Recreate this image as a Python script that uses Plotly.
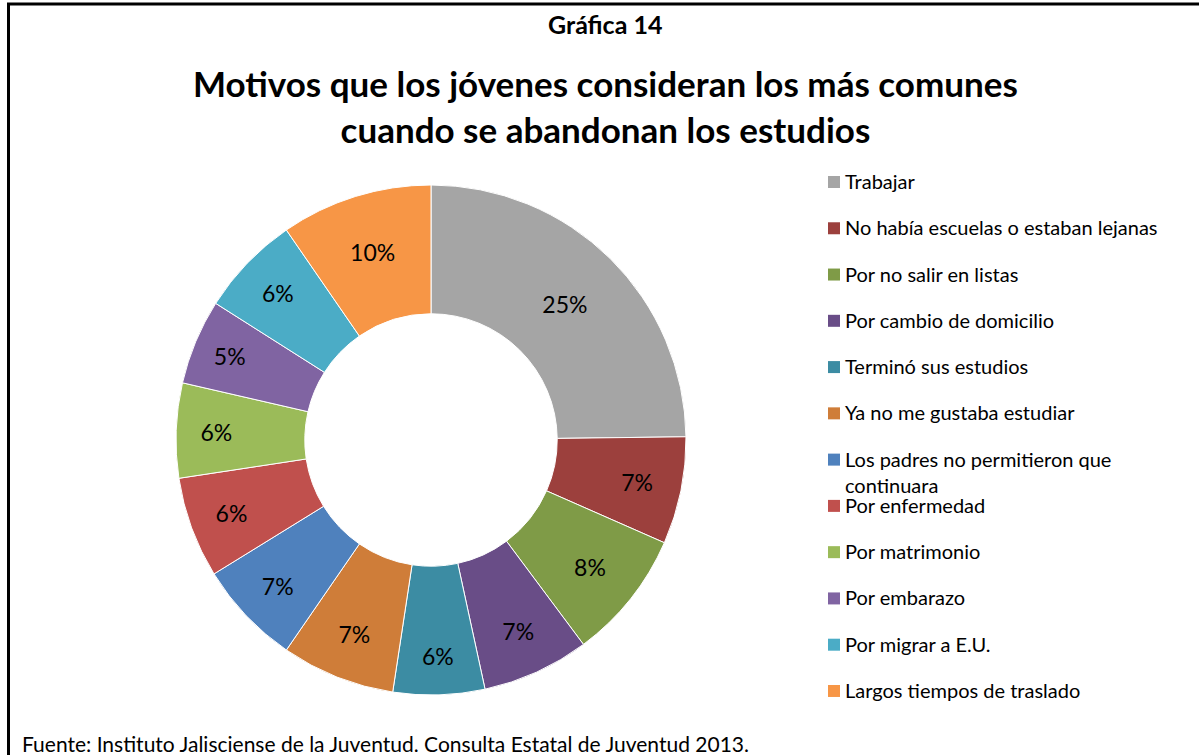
import plotly.graph_objects as go

labels = [
    "Trabajar",
    "No había escuelas o estaban lejanas",
    "Por no salir en listas",
    "Por cambio de domicilio",
    "Terminó sus estudios",
    "Ya no me gustaba estudiar",
    "Los padres no permitieron que<br>continuara",
    "Por enfermedad",
    "Por matrimonio",
    "Por embarazo",
    "Por migrar a E.U.",
    "Largos tiempos de traslado",
]
values = [24.8, 6.8, 8.2, 6.8, 5.8, 7.2, 6.6, 6.4, 6.0, 5.4, 6.4, 9.6]
colors = ["#A5A5A5", "#9C403D", "#7F9B47", "#694D87", "#3C8CA3", "#CF7D39",
          "#4F81BD", "#C0504D", "#9BBB59", "#8064A2", "#4BACC6", "#F79646"]

W, H = 1199, 755
FONT = "Lato"

def px_x(p):
    return p / W

def px_y(p):
    return 1 - p / H

fig = go.Figure()
fig.add_trace(go.Pie(
    labels=labels, values=values, sort=False, direction="clockwise", rotation=0,
    hole=0.495,
    marker=dict(colors=colors, line=dict(color="white", width=1)),
    texttemplate="%{percent:.0%}", textposition="inside",
    insidetextorientation="horizontal",
    textfont=dict(family=FONT, size=23, color="black"),
    domain=dict(x=[px_x(176), px_x(686)], y=[px_y(695), px_y(185)]),
    showlegend=False, hoverinfo="label+percent",
))

shapes = [
    dict(type="line", xref="paper", yref="paper", x0=px_x(8.5), x1=px_x(8.5), y0=px_y(3), y1=px_y(760),
         line=dict(color="black", width=3)),
    dict(type="line", xref="paper", yref="paper", x0=px_x(7), x1=px_x(1205), y0=px_y(4), y1=px_y(4),
         line=dict(color="black", width=3)),
]
annotations = [
    dict(text="<b>Gráfica 14</b>", x=px_x(605), y=px_y(24), xref="paper", yref="paper",
         showarrow=False, xanchor="center", yanchor="middle",
         font=dict(family=FONT, size=25, color="black")),
    dict(text="<b>Motivos que los jóvenes consideran los más comunes<br>cuando se abandonan los estudios</b>",
         x=px_x(605), y=px_y(106), xref="paper", yref="paper",
         showarrow=False, xanchor="center", yanchor="middle",
         font=dict(family=FONT, size=35, color="black")),
    dict(text="Fuente: Instituto Jalisciense de la Juventud. Consulta Estatal de Juventud 2013.",
         x=px_x(20), y=px_y(743), xref="paper", yref="paper",
         showarrow=False, xanchor="left", yanchor="middle",
         font=dict(family=FONT, size=21, color="black")),
]

# legend drawn from labels/colors
top_row, step = 182, 46.27
for i, (lab, col) in enumerate(zip(labels, colors)):
    yc = top_row + i * step
    shapes.append(dict(type="rect", xref="paper", yref="paper",
                       x0=px_x(828), x1=px_x(840), y0=px_y(yc - 6), y1=px_y(yc + 6),
                       fillcolor=col, line=dict(width=0)))
    annotations.append(dict(text=lab, x=px_x(843), y=px_y(yc - 15), xref="paper", yref="paper",
                            showarrow=False, xanchor="left", yanchor="top", align="left",
                            font=dict(family=FONT, size=20, color="black")))

fig.update_layout(
    width=W, height=H, margin=dict(l=0, r=0, t=0, b=0),
    paper_bgcolor="white", plot_bgcolor="white",
    shapes=shapes, annotations=annotations,
    font=dict(family=FONT),
)
fig.write_html("out.html", config={"displayModeBar": False},
               post_script="document.body.style.margin='0';document.body.style.overflow='hidden';")
